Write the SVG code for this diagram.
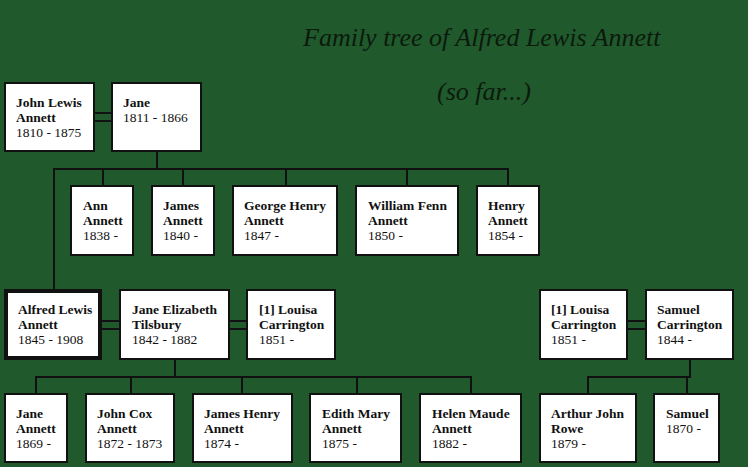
<svg xmlns="http://www.w3.org/2000/svg" width="748" height="467" viewBox="0 0 748 467">
<style>
.box{fill:#fff;stroke:#111;stroke-width:2}
.main{fill:#fff;stroke:#111;stroke-width:4}
.n{font-family:"Liberation Serif","Times New Roman",serif;font-size:13.5px;font-weight:bold;fill:#111}
.d{font-family:"Liberation Serif","Times New Roman",serif;font-size:13.5px;fill:#111}
.t{font-family:"Liberation Serif","Times New Roman",serif;font-size:26px;font-style:italic;fill:#0c1a0e}
#connectors line{stroke:#111;stroke-width:2}
</style>
<rect x="0" y="0" width="748" height="467" fill="#20592b"/>
<g id="title">
<text class="t" x="303" y="46">Family tree of Alfred Lewis Annett</text>
<text class="t" x="437" y="100">(so far...)</text>
</g>
<g id="connectors">
<line x1="95" y1="113" x2="111" y2="113"/>
<line x1="95" y1="121" x2="111" y2="121"/>
<line x1="157" y1="152" x2="157" y2="169"/>
<line x1="53" y1="169" x2="509" y2="169"/>
<line x1="54" y1="169" x2="54" y2="289"/>
<line x1="103" y1="169" x2="103" y2="186"/>
<line x1="183" y1="169" x2="183" y2="186"/>
<line x1="286" y1="169" x2="286" y2="186"/>
<line x1="407" y1="169" x2="407" y2="186"/>
<line x1="508" y1="169" x2="508" y2="186"/>
<line x1="102" y1="321" x2="119" y2="321"/>
<line x1="102" y1="329" x2="119" y2="329"/>
<line x1="230" y1="321" x2="246" y2="321"/>
<line x1="230" y1="329" x2="246" y2="329"/>
<line x1="175" y1="360" x2="175" y2="377"/>
<line x1="35" y1="377" x2="472" y2="377"/>
<line x1="36" y1="377" x2="36" y2="394"/>
<line x1="131" y1="377" x2="131" y2="394"/>
<line x1="242" y1="377" x2="242" y2="394"/>
<line x1="357" y1="377" x2="357" y2="394"/>
<line x1="471" y1="377" x2="471" y2="394"/>
<line x1="628" y1="321" x2="645" y2="321"/>
<line x1="628" y1="329" x2="645" y2="329"/>
<line x1="690" y1="360" x2="690" y2="377"/>
<line x1="587" y1="377" x2="691" y2="377"/>
<line x1="588" y1="377" x2="588" y2="394"/>
<line x1="687" y1="377" x2="687" y2="394"/>
</g>
<g id="john-lewis-annett">
<rect class="box" x="5" y="83" width="89" height="68"/>
<text class="n" x="16" y="107">John Lewis</text>
<text class="n" x="16" y="122">Annett</text>
<text class="d" x="16" y="137">1810 - 1875</text>
</g>
<g id="jane">
<rect class="box" x="112" y="83" width="89" height="68"/>
<text class="n" x="123" y="107">Jane</text>
<text class="d" x="123" y="122">1811 - 1866</text>
</g>
<g id="ann-annett">
<rect class="box" x="71" y="186" width="62" height="69"/>
<text class="n" x="83" y="210">Ann</text>
<text class="n" x="83" y="225">Annett</text>
<text class="d" x="83" y="240">1838 -</text>
</g>
<g id="james-annett">
<rect class="box" x="152" y="186" width="62" height="69"/>
<text class="n" x="163" y="210">James</text>
<text class="n" x="163" y="225">Annett</text>
<text class="d" x="163" y="240">1840 -</text>
</g>
<g id="george-henry-annett">
<rect class="box" x="233" y="186" width="104" height="69"/>
<text class="n" x="244" y="210">George Henry</text>
<text class="n" x="244" y="225">Annett</text>
<text class="d" x="244" y="240">1847 -</text>
</g>
<g id="william-fenn-annett">
<rect class="box" x="356" y="186" width="102" height="69"/>
<text class="n" x="368" y="210">William Fenn</text>
<text class="n" x="368" y="225">Annett</text>
<text class="d" x="368" y="240">1850 -</text>
</g>
<g id="henry-annett">
<rect class="box" x="477" y="186" width="62" height="69"/>
<text class="n" x="488" y="210">Henry</text>
<text class="n" x="488" y="225">Annett</text>
<text class="d" x="488" y="240">1854 -</text>
</g>
<g id="alfred-lewis-annett">
<rect class="main" x="6" y="291" width="94" height="67"/>
<text class="n" x="18" y="314">Alfred Lewis</text>
<text class="n" x="18" y="329">Annett</text>
<text class="d" x="18" y="344">1845 - 1908</text>
</g>
<g id="jane-elizabeth-tilsbury">
<rect class="box" x="120" y="290" width="109" height="69"/>
<text class="n" x="132" y="314">Jane Elizabeth</text>
<text class="n" x="132" y="329">Tilsbury</text>
<text class="d" x="132" y="344">1842 - 1882</text>
</g>
<g id="louisa-carrington-1">
<rect class="box" x="247" y="290" width="88" height="69"/>
<text class="n" x="259" y="314">[1] Louisa</text>
<text class="n" x="259" y="329">Carrington</text>
<text class="d" x="259" y="344">1851 -</text>
</g>
<g id="louisa-carrington-2">
<rect class="box" x="540" y="290" width="87" height="69"/>
<text class="n" x="551" y="314">[1] Louisa</text>
<text class="n" x="551" y="329">Carrington</text>
<text class="d" x="551" y="344">1851 -</text>
</g>
<g id="samuel-carrington">
<rect class="box" x="646" y="290" width="87" height="69"/>
<text class="n" x="657" y="314">Samuel</text>
<text class="n" x="657" y="329">Carrington</text>
<text class="d" x="657" y="344">1844 -</text>
</g>
<g id="jane-annett">
<rect class="box" x="5" y="394" width="62" height="68"/>
<text class="n" x="16" y="418">Jane</text>
<text class="n" x="16" y="433">Annett</text>
<text class="d" x="16" y="448">1869 -</text>
</g>
<g id="john-cox-annett">
<rect class="box" x="86" y="394" width="88" height="68"/>
<text class="n" x="97" y="418">John Cox</text>
<text class="n" x="97" y="433">Annett</text>
<text class="d" x="97" y="448">1872 - 1873</text>
</g>
<g id="james-henry-annett">
<rect class="box" x="193" y="394" width="99" height="68"/>
<text class="n" x="204" y="418">James Henry</text>
<text class="n" x="204" y="433">Annett</text>
<text class="d" x="204" y="448">1874 -</text>
</g>
<g id="edith-mary-annett">
<rect class="box" x="310" y="394" width="91" height="68"/>
<text class="n" x="322" y="418">Edith Mary</text>
<text class="n" x="322" y="433">Annett</text>
<text class="d" x="322" y="448">1875 -</text>
</g>
<g id="helen-maude-annett">
<rect class="box" x="420" y="394" width="101" height="68"/>
<text class="n" x="432" y="418">Helen Maude</text>
<text class="n" x="432" y="433">Annett</text>
<text class="d" x="432" y="448">1882 -</text>
</g>
<g id="arthur-john-rowe">
<rect class="box" x="540" y="394" width="96" height="68"/>
<text class="n" x="551" y="418">Arthur John</text>
<text class="n" x="551" y="433">Rowe</text>
<text class="d" x="551" y="448">1879 -</text>
</g>
<g id="samuel">
<rect class="box" x="654" y="394" width="65" height="68"/>
<text class="n" x="666" y="418">Samuel</text>
<text class="d" x="666" y="433">1870 -</text>
</g>
</svg>
